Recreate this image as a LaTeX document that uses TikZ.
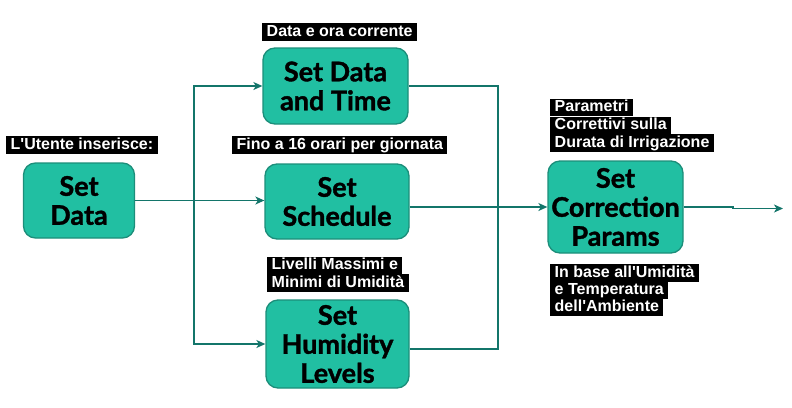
\documentclass[tikz,border=0pt]{standalone}
\usepackage{fontspec}
\setmainfont{Liberation Sans}[Ligatures=TeXOff]
\newfontfamily\boxfont{Lato}[BoldFeatures={FakeBold=1.4}]
\usetikzlibrary{arrows.meta,calc}
\definecolor{boxfill}{HTML}{21BFA2}
\definecolor{boxline}{HTML}{1C8E7A}
\definecolor{conncol}{HTML}{13756A}
\tikzset{
  stepbox/.style={draw=boxline, line width=1.3pt, fill=boxfill, rounded corners=12pt,
    align=center, inner sep=0pt, font=\boxfont\bfseries\fontsize{27}{29}\selectfont},
  lbl/.style={fill=black, text=white, anchor=west, inner xsep=4.5pt, inner ysep=0pt,
    text height=12pt, text depth=3.6pt, minimum height=17.4pt,
    font=\bfseries\fontsize{16}{17}\selectfont},
  conn/.style={draw=conncol, line width=1.3pt},
  arr/.style={conn, -{Stealth[length=9pt,width=8pt,inset=2.5pt]}}
}
\begin{document}
\begin{tikzpicture}[x=1pt,y=-1pt]
\useasboundingbox (0,0) rectangle (792,407);
% boxes
\node[stepbox, minimum width=111pt, minimum height=75pt] (data) at (79,200.5) {Set\\Data};
\node[stepbox, minimum width=145pt, minimum height=76pt] (dt) at (335.5,86) {Set Data\\and Time};
\node[stepbox, minimum width=144pt, minimum height=75pt] (sched) at (337,201.5) {Set\\Schedule};
\node[stepbox, minimum width=143pt, minimum height=88pt] (hum) at (337.5,344) {Set\\Humidity\\Levels};
\node[stepbox, minimum width=135pt, minimum height=92pt] (corr) at (615.5,207) {Set\\Correction\\Params};
% labels
\node[lbl] (l1) at (6,145) {L'Utente inserisce:};
\node[lbl] (l2) at (262,32) {Data e ora corrente};
\node[lbl] (l3) at (232,145) {Fino a 16 orari per giornata};
\node[lbl] (l4a) at (267,265.5) {Livelli Massimi e};
\node[lbl] (l4b) at (267,283) {Minimi di Umidità};
\node[lbl] (l5a) at (550,107.5) {Parametri\hspace{12pt}};
\node[lbl] (l5b) at (550,125.5) {Correttivi sulla};
\node[lbl] (l5c) at (550,143) {Durata di Irrigazione};
\node[lbl] (l6a) at (550,273) {In base all'Umidità};
\node[lbl] (l6b) at (550,290.5) {e Temperatura};
\node[lbl] (l6c) at (550,307.5) {dell'Ambiente};
% connectors
\coordinate (j1) at (194,201);
\coordinate (j2) at (498,207);
\coordinate (k1) at (733,207);
\coordinate (k2) at (733,208.5);
\coordinate (out) at (783,208.5);
\draw[arr] (data.east) -- (data.east -| sched.west);
\draw[arr] (j1) |- (dt.west);
\draw[arr] (j1) |- (hum.west);
\draw[conn] (dt.east) -| (j2);
\draw[conn] ($(hum.east)+(0,5)$) -| (j2);
\draw[arr] (sched.east |- corr.west) -- (corr.west);
\draw[conn] (corr.east) -- (k1) -- (k2);
\draw[arr] (k2) -- (out);
\end{tikzpicture}
\end{document}
